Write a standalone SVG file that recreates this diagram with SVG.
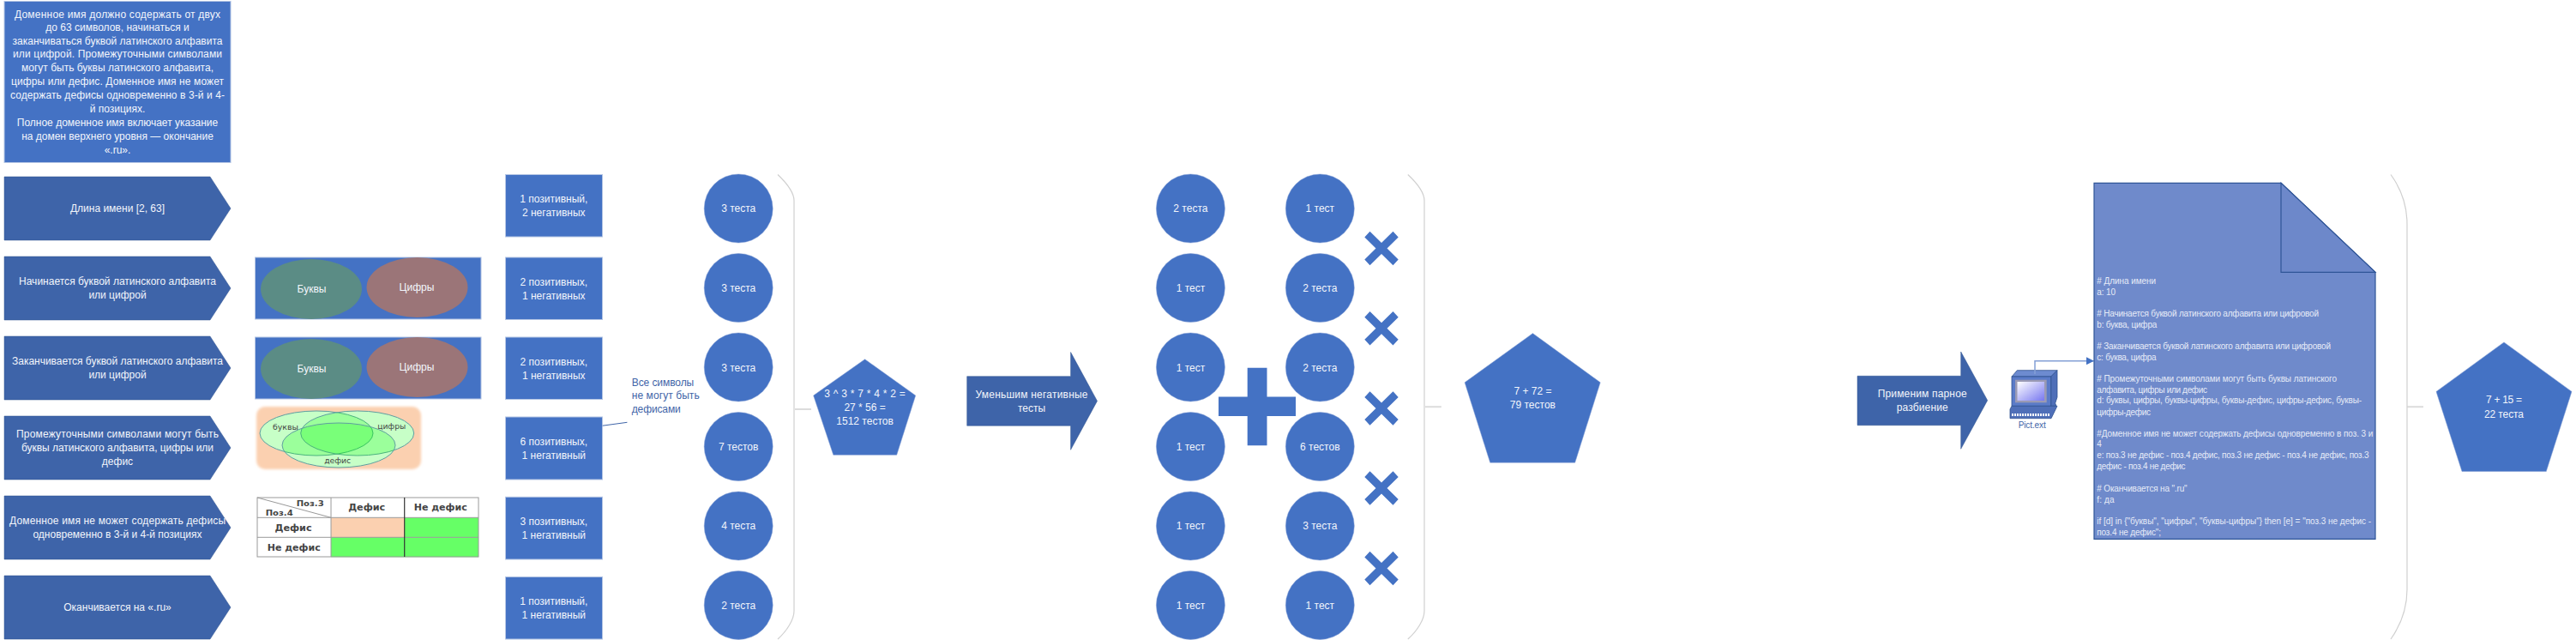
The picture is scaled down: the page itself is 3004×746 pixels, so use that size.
<svg xmlns="http://www.w3.org/2000/svg" width="3004" height="746" viewBox="0 0 3004 746">
<style>
text{font-family:"Liberation Sans",Arial,sans-serif;font-size:12px;fill:#f2f5fb;text-anchor:middle}
.b{fill:#4472c4;stroke:#b4c5e4;stroke-width:1}
.c{fill:#3e64a9;stroke:#2f528f;stroke-width:.5}
.o{fill:#4472c4;stroke:#7f9bd3;stroke-width:.5}
.g{fill:#5b8c85}.r{fill:#9b7578}
.br{fill:none;stroke:#d0d0d0;stroke-width:1.2}
.t{fill:none;stroke:#dcdcdc;stroke-width:2}
.lb{fill:#3f65a8;text-anchor:start}
.d{font-size:10px;text-anchor:start;fill:#e6ebf7}
.v{fill:#444;font-family:"DejaVu Sans",sans-serif;font-size:8px}
.h{fill:#444;font-family:"DejaVu Sans",sans-serif;font-weight:bold;font-size:10px}
.ve{fill:#fff}.vg{fill:#00ff00;fill-opacity:.22;stroke:#5f9ea0;stroke-width:1}
.tb{fill:none;stroke:#999;stroke-width:1}
</style>
<defs>
<filter id="soft" x="-5%" y="-5%" width="110%" height="110%"><feGaussianBlur stdDeviation="1.5"/></filter>
<linearGradient id="scr" x1="0" y1="0" x2="1" y2="1"><stop offset="0" stop-color="#fff"/><stop offset="1" stop-color="#7878f0"/></linearGradient>
<marker id="ah" markerWidth="9" markerHeight="9" refX="8.500" refY="4.500" orient="auto" markerUnits="userSpaceOnUse"><path d="M0 0L9 4.500L0 9Z" fill="#4472c4"/></marker>
<polygon id="x" points="-13.500,-19.700 0,-6.500 13.500,-19.700 19.700,-13 6.500,0 19.700,13 13.500,19.700 0,6.500 -13.500,19.700 -19.700,13 -6.500,0 -19.700,-13" fill="#4472c4"/>
</defs>

<g id="requirements">
<rect class="b" x="5" y="1.500" width="264" height="188"/>
<text x="137" y="20.700" textLength="240">Доменное имя должно содержать от двух</text>
<text x="137" y="36.300">до 63 символов, начинаться и</text>
<text x="137" y="52.300" textLength="245">заканчиваться буквой латинского алфавита</text>
<text x="137" y="67.300" textLength="244">или цифрой. Промежуточными символами</text>
<text x="137" y="83.300">могут быть буквы латинского алфавита,</text>
<text x="137" y="99.300" textLength="248">цифры или дефис. Доменное имя не может</text>
<text x="137" y="115.300" textLength="250">содержать дефисы одновременно в 3-й и 4-</text>
<text x="137" y="131.300">й позициях.</text>
<text x="137" y="147.300">Полное доменное имя включает указание</text>
<text x="137" y="163.300">на домен верхнего уровня — окончание</text>
<text x="137" y="179.300">«.ru».</text>
</g>

<g id="factor-1"><polygon class="c" points="5,206 245,206 269,243 245,280 5,280"/><text x="137" y="247">Длина имени [2, 63]</text></g>
<g id="factor-2"><polygon class="c" points="5,299 245,299 269,336 245,373 5,373"/><text x="137" y="332.300" textLength="230">Начинается буквой латинского алфавита</text><text x="137" y="348">или цифрой</text></g>
<g id="factor-3"><polygon class="c" points="5,392 245,392 269,429 245,466 5,466"/><text x="137" y="425" textLength="246">Заканчивается буквой латинского алфавита</text><text x="137" y="441">или цифрой</text></g>
<g id="factor-4"><polygon class="c" points="5,485 245,485 269,522 245,559 5,559"/><text x="137" y="510.300" textLength="236">Промежуточными символами могут быть</text><text x="137" y="526.300" textLength="224">буквы латинского алфавита, цифры или</text><text x="137" y="542">дефис</text></g>
<g id="factor-5"><polygon class="c" points="5,578 245,578 269,615 245,652 5,652"/><text x="137" y="611.300" textLength="252">Доменное имя не может содержать дефисы</text><text x="137" y="627">одновременно в 3-й и 4-й позициях</text></g>
<g id="factor-6"><polygon class="c" points="5,671 245,671 269,708 245,745 5,745"/><text x="137" y="712.300">Оканчивается на «.ru»</text></g>

<g id="sets-start"><rect class="b" x="297.500" y="300" width="263.500" height="72"/><ellipse class="g" cx="363" cy="337" rx="59" ry="35"/><ellipse class="r" cx="486.500" cy="335" rx="59" ry="35"/><text x="363.500" y="341">Буквы</text><text x="486" y="339">Цифры</text></g>
<g id="sets-end"><rect class="b" x="297.500" y="393" width="263.500" height="72"/><ellipse class="g" cx="363" cy="430" rx="59" ry="35"/><ellipse class="r" cx="486.500" cy="428" rx="59" ry="35"/><text x="363.500" y="434">Буквы</text><text x="486" y="432">Цифры</text></g>

<g id="venn">
<rect x="299" y="474" width="192" height="73" rx="10" fill="#fbd0b0" filter="url(#soft)"/>
<ellipse class="ve" cx="369" cy="505" rx="66" ry="26"/><ellipse class="ve" cx="416.700" cy="505" rx="66" ry="26"/><ellipse class="ve" cx="395" cy="519" rx="66" ry="26"/>
<ellipse class="vg" cx="369" cy="505" rx="66" ry="26"/><ellipse class="vg" cx="416.700" cy="505" rx="66" ry="26"/><ellipse class="vg" cx="395" cy="519" rx="66" ry="26"/>
<text class="v" x="333" y="500.500" textLength="30" lengthAdjust="spacingAndGlyphs">буквы</text><text class="v" x="456.700" y="500" textLength="33" lengthAdjust="spacingAndGlyphs">цифры</text><text class="v" x="393.700" y="540" textLength="31" lengthAdjust="spacingAndGlyphs">дефис</text>
</g>

<g id="hyphen-table">
<rect x="300" y="580" width="258" height="69" fill="#fff"/>
<rect x="386" y="603.300" width="86" height="23" fill="#fbd0b0"/>
<rect x="472" y="603.300" width="86" height="23" fill="#66ff66"/>
<rect x="386" y="626.300" width="172" height="23" fill="#66ff66"/>
<rect class="tb" x="300" y="580" width="258" height="69"/>
<path class="tb" d="M300 603.300H558M300 626.300H558M386 580V649M300 580L386 603.300"/>
<path d="M471.700 580V649" stroke="#333" stroke-width="1.200"/>
<text class="h" x="361.700" y="590" textLength="32" lengthAdjust="spacingAndGlyphs" style="font-size:9px">Поз.3</text>
<text class="h" x="325.700" y="600.500" textLength="32" lengthAdjust="spacingAndGlyphs" style="font-size:9px">Поз.4</text>
<text class="h" x="427.700" y="595" textLength="43" lengthAdjust="spacingAndGlyphs">Дефис</text>
<text class="h" x="513.700" y="595" textLength="62" lengthAdjust="spacingAndGlyphs">Не дефис</text>
<text class="h" x="342" y="618.500" textLength="43" lengthAdjust="spacingAndGlyphs">Дефис</text>
<text class="h" x="342.700" y="641.500" textLength="62" lengthAdjust="spacingAndGlyphs">Не дефис</text>
</g>

<g id="counts">
<g id="count-1"><rect class="b" x="589.500" y="203.500" width="113" height="72.500"/><text x="645.800" y="236.300">1 позитивный,</text><text x="645.800" y="252.300">2 негативных</text></g>
<g id="count-2"><rect class="b" x="589.500" y="300" width="113" height="72.500"/><text x="645.800" y="332.500">2 позитивных,</text><text x="645.800" y="348.500">1 негативных</text></g>
<g id="count-3"><rect class="b" x="589.500" y="393" width="113" height="72.500"/><text x="645.800" y="425.600">2 позитивных,</text><text x="645.800" y="441.600">1 негативных</text></g>
<g id="count-4"><rect class="b" x="589.500" y="486" width="113" height="73"/><text x="645.800" y="518.700">6 позитивных,</text><text x="645.800" y="534.700">1 негативный</text></g>
<g id="count-5"><rect class="b" x="589.500" y="579.300" width="113" height="72.700"/><text x="645.800" y="611.800">3 позитивных,</text><text x="645.800" y="627.800">1 негативный</text></g>
<g id="count-6"><rect class="b" x="589.500" y="672.400" width="113" height="72.600"/><text x="645.800" y="705.200">1 позитивный,</text><text x="645.800" y="721.200">1 негативный</text></g>
</g>

<g id="tests-a">
<g id="a1"><circle class="o" cx="861.200" cy="243" r="40"/><text x="861.200" y="247.300">3 теста</text></g>
<g id="a2"><circle class="o" cx="861.200" cy="335.500" r="40"/><text x="861.200" y="339.500">3 теста</text></g>
<g id="a3"><circle class="o" cx="861.200" cy="428" r="40"/><text x="861.200" y="432.700">3 теста</text></g>
<g id="a4"><circle class="o" cx="861.200" cy="520.500" r="40"/><text x="861.200" y="525">7 тестов</text></g>
<g id="a5"><circle class="o" cx="861.200" cy="613" r="40"/><text x="861.200" y="617">4 теста</text></g>
<g id="a6"><circle class="o" cx="861.200" cy="705.400" r="40"/><text x="861.200" y="710">2 теста</text></g>
</g>

<g id="note"><text class="lb" x="736.700" y="450" textLength="72.500">Все символы</text><text class="lb" x="736.700" y="465" textLength="79">не могут быть</text><text class="lb" x="736.700" y="481" textLength="57">дефисами</text></g>

<g id="brace-1"><path class="br" d="M907 203.500C918 214 926 224 926 234V712C926 722 918 735 907 745"/></g>
<g id="total-1"><polygon class="o" points="1008.600,418.800 1067.700,461 1045.700,530.300 971.800,530.300 948.600,461"/><text x="1008.600" y="462.600" textLength="94.500">3 ^ 3 * 7 * 4 * 2 =</text><text x="1008.600" y="478.500">27 * 56 =</text><text x="1008.600" y="494.900">1512 тестов</text></g>
<g id="arrow-1"><polygon class="c" points="1127.700,438.700 1248.600,438.700 1248.600,410.600 1279.500,467.400 1248.600,524.300 1248.600,496.200 1127.700,496.200"/><text x="1203" y="464" textLength="131">Уменьшим негативные</text><text x="1203" y="480">тесты</text></g>

<g id="tests-b">
<g id="b1"><circle class="o" cx="1388.400" cy="243" r="40"/><text x="1388.400" y="247.300">2 теста</text></g>
<g id="b2"><circle class="o" cx="1388.400" cy="335.500" r="40"/><text x="1388.400" y="339.500">1 тест</text></g>
<g id="b3"><circle class="o" cx="1388.400" cy="428" r="40"/><text x="1388.400" y="432.700">1 тест</text></g>
<g id="b4"><circle class="o" cx="1388.400" cy="520.500" r="40"/><text x="1388.400" y="525">1 тест</text></g>
<g id="b5"><circle class="o" cx="1388.400" cy="613" r="40"/><text x="1388.400" y="617">1 тест</text></g>
<g id="b6"><circle class="o" cx="1388.400" cy="705.400" r="40"/><text x="1388.400" y="710">1 тест</text></g>
</g>
<g id="plus"><polygon fill="#4472c4" points="1454.700,428.700 1477.500,428.700 1477.500,462.500 1511,462.500 1511,484.900 1477.500,484.900 1477.500,519.300 1454.700,519.300 1454.700,484.900 1421,484.900 1421,462.500 1454.700,462.500"/></g>
<g id="tests-c">
<g id="c1"><circle class="o" cx="1539.300" cy="243" r="40"/><text x="1539.300" y="247.300">1 тест</text></g>
<g id="c2"><circle class="o" cx="1539.300" cy="335.500" r="40"/><text x="1539.300" y="339.500">2 теста</text></g>
<g id="c3"><circle class="o" cx="1539.300" cy="428" r="40"/><text x="1539.300" y="432.700">2 теста</text></g>
<g id="c4"><circle class="o" cx="1539.300" cy="520.500" r="40"/><text x="1539.300" y="525">6 тестов</text></g>
<g id="c5"><circle class="o" cx="1539.300" cy="613" r="40"/><text x="1539.300" y="617">3 теста</text></g>
<g id="c6"><circle class="o" cx="1539.300" cy="705.400" r="40"/><text x="1539.300" y="710">1 тест</text></g>
</g>
<g id="crosses">
<use href="#x" x="1611" y="289.500"/><use href="#x" x="1611" y="382.700"/><use href="#x" x="1611" y="476"/><use href="#x" x="1611" y="569"/><use href="#x" x="1611" y="662.500"/>
</g>
<g id="brace-2"><path class="br" d="M1641.800 203.500C1653 214 1661 224 1661 234V712C1661 722 1653 735 1641.800 745"/></g>
<g id="total-2"><polygon class="o" points="1787.400,388.600 1866.200,445.800 1836.700,539.200 1737.700,539.200 1708.100,445.800"/><text x="1787.400" y="459.700">7 + 72 =</text><text x="1787.400" y="475.700">79 тестов</text></g>

<g id="arrow-2"><polygon class="c" points="2166,438.300 2286.700,438.300 2286.700,410 2317.700,466.700 2286.700,523.300 2286.700,495.700 2166,495.700"/><text x="2241.700" y="463.300" textLength="104">Применим парное</text><text x="2241.700" y="479.300" textLength="60">разбиение</text></g>

<g id="pict">
<polygon points="2346,439 2352.300,431.700 2399,431.700 2391.700,439" fill="#6d8bd0" stroke="#2f528f" stroke-width=".8"/>
<polygon points="2391.700,439 2399,431.700 2399,463 2396.700,470 2398,473.300 2391.700,473.300" fill="#4f6fb8" stroke="#2f528f" stroke-width=".8"/>
<rect x="2346" y="439" width="45.700" height="34.300" fill="#5b7bc8" stroke="#2f528f" stroke-width=".8"/>
<rect x="2350" y="442.700" width="36.700" height="26.600" fill="#9a9ab4"/>
<rect x="2352.500" y="445" width="31.500" height="22" fill="url(#scr)"/>
<polygon points="2346,473.300 2399,473.300 2392,487.700 2344,487.700 2344,477" fill="#4f6fb8" stroke="#2f528f" stroke-width=".8"/>
<path d="M2346 483.500H2391" stroke="#fff" stroke-width="3" stroke-dasharray="2 1" fill="none"/>
<text x="2369.700" y="499.200" textLength="32" style="fill:#3f65a8;font-size:10px">Pict.ext</text>
</g>

<g id="connectors" fill="none">
<path d="M2373 436V420.700H2441.500" stroke="#84a0d6" stroke-width="1.500" marker-end="url(#ah)"/>
<path d="M702.700 496.200L731.400 492.300" stroke="#3f65a8" stroke-width="1"/>
<path class="t" d="M927 477H946"/>
<path class="t" d="M1662 474.200H1680.800"/>
<path class="t" d="M2807 474.200H2826"/>
</g>

<g id="pict-model">
<polygon points="2442,213.300 2660,213.300 2770,317.300 2770,628.300 2442,628.300" fill="#6f8acb" stroke="#2f5597" stroke-width="1.200"/>
<polygon points="2660,213.300 2770,317.300 2660,317.300" fill="#6d88ca" stroke="#2f5597" stroke-width="1.200"/>
<text class="d" x="2445.300" y="330.500" textLength="68.700"># Длина имени</text>
<text class="d" x="2445.300" y="343.500" textLength="21.700">a: 10</text>
<text class="d" x="2445.300" y="368.500" textLength="258.700"># Начинается буквой латинского алфавита или цифровой</text>
<text class="d" x="2445.300" y="381.500" textLength="70">b: буква, цифра</text>
<text class="d" x="2445.300" y="407" textLength="272.700"># Заканчивается буквой латинского алфавита или цифровой</text>
<text class="d" x="2445.300" y="419.500" textLength="69.300">c: буква, цифра</text>
<text class="d" x="2445.300" y="445" textLength="279.700"># Промежуточными символами могут быть буквы латинского</text>
<text class="d" x="2445.300" y="457.500" textLength="128.700">алфавита, цифры или дефис</text>
<text class="d" x="2445.300" y="470" textLength="308.700">d: буквы, цифры, буквы-цифры, буквы-дефис, цифры-дефис, буквы-</text>
<text class="d" x="2445.300" y="483.500" textLength="62.700">цифры-дефис</text>
<text class="d" x="2445.300" y="509" textLength="322">#Доменное имя не может содержать дефисы одновременно в поз. 3 и</text>
<text class="d" x="2445.300" y="521" textLength="5.300">4</text>
<text class="d" x="2445.300" y="534.300" textLength="317.300">e: поз.3 не дефис - поз.4 дефис, поз.3 не дефис - поз.4 не дефис, поз.3</text>
<text class="d" x="2445.300" y="547.300" textLength="103.300">дефис - поз.4 не дефис</text>
<text class="d" x="2445.300" y="572.500" textLength="105.300"># Оканчивается на ".ru"</text>
<text class="d" x="2445.300" y="585.500" textLength="20.300">f: да</text>
<text class="d" x="2445.300" y="611.200" textLength="319.700">if [d] in {"буквы", "цифры", "буквы-цифры"} then [e] = "поз.3 не дефис -</text>
<text class="d" x="2445.300" y="623.500" textLength="74.700">поз.4 не дефис";</text>
</g>

<g id="brace-3"><path class="br" d="M2788 203.500C2800 220 2807 240 2807 261V687C2807 708 2800 728 2788 745"/></g>
<g id="total-3"><polygon class="o" points="2920,398.900 2999,456.400 2969.300,549.500 2871,549.500 2841,456.400"/><text x="2920" y="470.400" textLength="42">7 + 15 =</text><text x="2920" y="486.700" textLength="46">22 теста</text></g>
</svg>
